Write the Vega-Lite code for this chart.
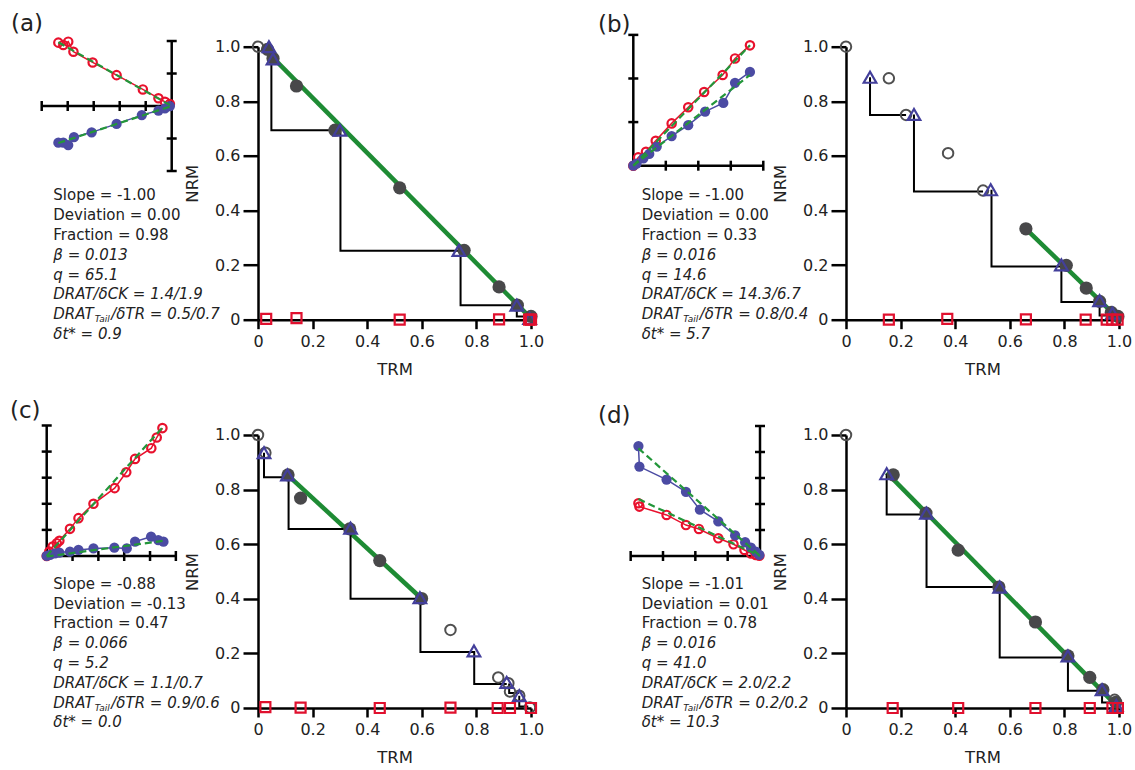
{
"$schema":"https://vega.github.io/schema/vega-lite/v6.json",
"padding":{"top":12.7,"left":0,"right":5,"bottom":0},
"config":{"font":"DejaVu Sans","view":{"stroke":null},
"axisX":{"domainColor":"#000","domainWidth":2.5,"tickColor":"#000","tickWidth":2.5,"tickSize":9,"labelFontSize":16,"labelPadding":5,"labelColor":"#222","titleFontSize":16.5,"titleFontWeight":"normal","titlePadding":12,"titleColor":"#222","grid":false,"labelFlush":false,"labelOverlap":false},
"axisY":{"domainColor":"#000","domainWidth":2.5,"tickColor":"#000","tickWidth":2.5,"tickSize":15,"labelFontSize":16,"labelPadding":3,"labelColor":"#222","titleFontSize":16.5,"titleFontWeight":"normal","titlePadding":14,"titleColor":"#222","grid":false,"labelFlush":false,"labelOverlap":false}},
"datasets":{
"arai":[
{"p":"a","k":"o","x":0,"y":1},
{"p":"a","k":"f","x":0.035,"y":0.99},{"p":"a","k":"f","x":0.055,"y":0.957},{"p":"a","k":"f","x":0.141,"y":0.856},{"p":"a","k":"f","x":0.282,"y":0.694},{"p":"a","k":"f","x":0.519,"y":0.483},{"p":"a","k":"f","x":0.755,"y":0.254},{"p":"a","k":"f","x":0.883,"y":0.12},{"p":"a","k":"f","x":0.95,"y":0.053},{"p":"a","k":"f","x":1.0,"y":0.012},
{"p":"a","k":"t","x":0.04,"y":1.0},{"p":"a","k":"t","x":0.055,"y":0.955},{"p":"a","k":"t","x":0.30,"y":0.694},{"p":"a","k":"t","x":0.736,"y":0.254},{"p":"a","k":"t","x":0.948,"y":0.053},{"p":"a","k":"t","x":0.995,"y":0.005},
{"p":"a","k":"s","x":0.03,"y":0.003},{"p":"a","k":"s","x":0.141,"y":0.006},{"p":"a","k":"s","x":0.519,"y":0},{"p":"a","k":"s","x":0.883,"y":0.001},{"p":"a","k":"s","x":0.993,"y":0},{"p":"a","k":"s","x":1.0,"y":0},
{"p":"b","k":"o","x":0,"y":1},{"p":"b","k":"o","x":0.157,"y":0.884},{"p":"b","k":"o","x":0.22,"y":0.75},{"p":"b","k":"o","x":0.374,"y":0.61},{"p":"b","k":"o","x":0.502,"y":0.473},
{"p":"b","k":"f","x":0.659,"y":0.333},{"p":"b","k":"f","x":0.807,"y":0.199},{"p":"b","k":"f","x":0.88,"y":0.116},{"p":"b","k":"f","x":0.929,"y":0.067},{"p":"b","k":"f","x":0.972,"y":0.027},{"p":"b","k":"f","x":0.996,"y":0.012},
{"p":"b","k":"t","x":0.088,"y":0.888},{"p":"b","k":"t","x":0.249,"y":0.752},{"p":"b","k":"t","x":0.53,"y":0.476},{"p":"b","k":"t","x":0.789,"y":0.201},{"p":"b","k":"t","x":0.929,"y":0.07},{"p":"b","k":"t","x":0.976,"y":0.024},
{"p":"b","k":"s","x":0.157,"y":0},{"p":"b","k":"s","x":0.371,"y":0.003},{"p":"b","k":"s","x":0.659,"y":0.001},{"p":"b","k":"s","x":0.878,"y":0},{"p":"b","k":"s","x":0.955,"y":0},{"p":"b","k":"s","x":0.975,"y":0},{"p":"b","k":"s","x":0.995,"y":0},
{"p":"c","k":"o","x":0,"y":1},{"p":"c","k":"o","x":0.027,"y":0.935},{"p":"c","k":"o","x":0.705,"y":0.286},{"p":"c","k":"o","x":0.88,"y":0.112},{"p":"c","k":"o","x":0.917,"y":0.091},{"p":"c","k":"o","x":0.923,"y":0.06},{"p":"c","k":"o","x":0.957,"y":0.045},{"p":"c","k":"o","x":0.996,"y":0.002},
{"p":"c","k":"f","x":0.11,"y":0.854},{"p":"c","k":"f","x":0.156,"y":0.769},{"p":"c","k":"f","x":0.336,"y":0.656},{"p":"c","k":"f","x":0.446,"y":0.54},{"p":"c","k":"f","x":0.599,"y":0.401},
{"p":"c","k":"t","x":0.022,"y":0.935},{"p":"c","k":"t","x":0.108,"y":0.854},{"p":"c","k":"t","x":0.339,"y":0.659},{"p":"c","k":"t","x":0.593,"y":0.404},{"p":"c","k":"t","x":0.791,"y":0.209},{"p":"c","k":"t","x":0.911,"y":0.094},{"p":"c","k":"t","x":0.957,"y":0.045},
{"p":"c","k":"s","x":0.027,"y":0.003},{"p":"c","k":"s","x":0.156,"y":0.001},{"p":"c","k":"s","x":0.446,"y":0},{"p":"c","k":"s","x":0.705,"y":0.001},{"p":"c","k":"s","x":0.878,"y":0},{"p":"c","k":"s","x":0.923,"y":0},{"p":"c","k":"s","x":1.0,"y":0},
{"p":"d","k":"o","x":0,"y":1},{"p":"d","k":"o","x":0.984,"y":0.03},
{"p":"d","k":"f","x":0.173,"y":0.854},{"p":"d","k":"f","x":0.293,"y":0.714},{"p":"d","k":"f","x":0.411,"y":0.578},{"p":"d","k":"f","x":0.56,"y":0.443},{"p":"d","k":"f","x":0.694,"y":0.315},{"p":"d","k":"f","x":0.813,"y":0.191},{"p":"d","k":"f","x":0.893,"y":0.112},{"p":"d","k":"f","x":0.941,"y":0.067},{"p":"d","k":"f","x":0.988,"y":0.021},
{"p":"d","k":"t","x":0.149,"y":0.858},{"p":"d","k":"t","x":0.295,"y":0.714},{"p":"d","k":"t","x":0.563,"y":0.443},{"p":"d","k":"t","x":0.813,"y":0.191},{"p":"d","k":"t","x":0.938,"y":0.067},{"p":"d","k":"t","x":0.99,"y":0.009},
{"p":"d","k":"s","x":0.171,"y":0},{"p":"d","k":"s","x":0.411,"y":0},{"p":"d","k":"s","x":0.694,"y":0},{"p":"d","k":"s","x":0.893,"y":0},{"p":"d","k":"s","x":0.976,"y":0},{"p":"d","k":"s","x":0.996,"y":0}
],
"steps":[
{"p":"a","g":1,"o":1,"x":0.049,"y":0.957},{"p":"a","g":1,"o":2,"x":0.049,"y":0.694},{"p":"a","g":1,"o":3,"x":0.30,"y":0.694},
{"p":"a","g":2,"o":1,"x":0.302,"y":0.694},{"p":"a","g":2,"o":2,"x":0.302,"y":0.253},{"p":"a","g":2,"o":3,"x":0.75,"y":0.253},
{"p":"a","g":3,"o":1,"x":0.742,"y":0.254},{"p":"a","g":3,"o":2,"x":0.742,"y":0.053},{"p":"a","g":3,"o":3,"x":0.948,"y":0.053},
{"p":"a","g":4,"o":1,"x":0.948,"y":0.053},{"p":"a","g":4,"o":2,"x":0.948,"y":0.012},{"p":"a","g":4,"o":3,"x":0.99,"y":0.012},
{"p":"b","g":1,"o":1,"x":0.088,"y":0.888},{"p":"b","g":1,"o":2,"x":0.088,"y":0.75},{"p":"b","g":1,"o":3,"x":0.22,"y":0.75},
{"p":"b","g":2,"o":1,"x":0.249,"y":0.752},{"p":"b","g":2,"o":2,"x":0.249,"y":0.47},{"p":"b","g":2,"o":3,"x":0.502,"y":0.47},
{"p":"b","g":3,"o":1,"x":0.533,"y":0.476},{"p":"b","g":3,"o":2,"x":0.533,"y":0.195},{"p":"b","g":3,"o":3,"x":0.789,"y":0.195},
{"p":"b","g":4,"o":1,"x":0.789,"y":0.2},{"p":"b","g":4,"o":2,"x":0.789,"y":0.065},{"p":"b","g":4,"o":3,"x":0.929,"y":0.065},
{"p":"b","g":5,"o":1,"x":0.929,"y":0.067},{"p":"b","g":5,"o":2,"x":0.929,"y":0.015},{"p":"b","g":5,"o":3,"x":0.965,"y":0.015},
{"p":"c","g":1,"o":1,"x":0.022,"y":0.935},{"p":"c","g":1,"o":2,"x":0.022,"y":0.845},{"p":"c","g":1,"o":3,"x":0.108,"y":0.845},
{"p":"c","g":2,"o":1,"x":0.112,"y":0.854},{"p":"c","g":2,"o":2,"x":0.112,"y":0.656},{"p":"c","g":2,"o":3,"x":0.336,"y":0.656},
{"p":"c","g":3,"o":1,"x":0.339,"y":0.659},{"p":"c","g":3,"o":2,"x":0.339,"y":0.4},{"p":"c","g":3,"o":3,"x":0.593,"y":0.4},
{"p":"c","g":4,"o":1,"x":0.595,"y":0.4},{"p":"c","g":4,"o":2,"x":0.595,"y":0.205},{"p":"c","g":4,"o":3,"x":0.791,"y":0.205},
{"p":"c","g":5,"o":1,"x":0.792,"y":0.209},{"p":"c","g":5,"o":2,"x":0.792,"y":0.088},{"p":"c","g":5,"o":3,"x":0.911,"y":0.088},
{"p":"c","g":6,"o":1,"x":0.92,"y":0.09},{"p":"c","g":6,"o":2,"x":0.92,"y":0.055},{"p":"c","g":6,"o":3,"x":0.957,"y":0.055},
{"p":"c","g":7,"o":1,"x":0.957,"y":0.045},{"p":"c","g":7,"o":2,"x":0.957,"y":0.005},{"p":"c","g":7,"o":3,"x":0.99,"y":0.005},
{"p":"d","g":1,"o":1,"x":0.149,"y":0.858},{"p":"d","g":1,"o":2,"x":0.149,"y":0.709},{"p":"d","g":1,"o":3,"x":0.293,"y":0.709},
{"p":"d","g":2,"o":1,"x":0.295,"y":0.714},{"p":"d","g":2,"o":2,"x":0.295,"y":0.443},{"p":"d","g":2,"o":3,"x":0.56,"y":0.443},
{"p":"d","g":3,"o":1,"x":0.563,"y":0.443},{"p":"d","g":3,"o":2,"x":0.563,"y":0.185},{"p":"d","g":3,"o":3,"x":0.813,"y":0.185},
{"p":"d","g":4,"o":1,"x":0.813,"y":0.191},{"p":"d","g":4,"o":2,"x":0.813,"y":0.063},{"p":"d","g":4,"o":3,"x":0.938,"y":0.063},
{"p":"d","g":5,"o":1,"x":0.938,"y":0.067},{"p":"d","g":5,"o":2,"x":0.938,"y":0.02},{"p":"d","g":5,"o":3,"x":0.975,"y":0.02}
],
"fit":[
{"p":"a","x":0.03,"y":0.985},{"p":"a","x":1.0,"y":0.005},
{"p":"b","x":0.659,"y":0.333},{"p":"b","x":0.996,"y":0.006},
{"p":"c","x":0.108,"y":0.854},{"p":"c","x":0.599,"y":0.401},
{"p":"d","x":0.149,"y":0.862},{"p":"d","x":0.996,"y":0.003}
],
"zij":[
{"p":"a","c":"r","i":1,"x":-4.36,"y":1.95},{"p":"a","c":"r","i":2,"x":-4.17,"y":1.88},{"p":"a","c":"r","i":3,"x":-3.98,"y":1.98},{"p":"a","c":"r","i":4,"x":-3.78,"y":1.67},{"p":"a","c":"r","i":5,"x":-3.04,"y":1.34},{"p":"a","c":"r","i":6,"x":-2.12,"y":0.95},{"p":"a","c":"r","i":7,"x":-1.11,"y":0.51},{"p":"a","c":"r","i":8,"x":-0.51,"y":0.24},{"p":"a","c":"r","i":9,"x":-0.26,"y":0.13},{"p":"a","c":"r","i":10,"x":-0.07,"y":0.06},
{"p":"a","c":"b","i":1,"x":-4.36,"y":-1.13},{"p":"a","c":"b","i":2,"x":-4.17,"y":-1.13},{"p":"a","c":"b","i":3,"x":-3.98,"y":-1.2},{"p":"a","c":"b","i":4,"x":-3.76,"y":-0.96},{"p":"a","c":"b","i":5,"x":-3.08,"y":-0.81},{"p":"a","c":"b","i":6,"x":-2.12,"y":-0.55},{"p":"a","c":"b","i":7,"x":-1.15,"y":-0.28},{"p":"a","c":"b","i":8,"x":-0.51,"y":-0.14},{"p":"a","c":"b","i":9,"x":-0.26,"y":-0.07},{"p":"a","c":"b","i":10,"x":-0.07,"y":0.0},
{"p":"b","c":"r","i":1,"x":0,"y":0},{"p":"b","c":"r","i":2,"x":0.15,"y":0.19},{"p":"b","c":"r","i":3,"x":0.39,"y":0.32},{"p":"b","c":"r","i":4,"x":0.69,"y":0.57},{"p":"b","c":"r","i":5,"x":1.18,"y":0.97},{"p":"b","c":"r","i":6,"x":1.69,"y":1.34},{"p":"b","c":"r","i":7,"x":2.18,"y":1.69},{"p":"b","c":"r","i":8,"x":2.75,"y":2.08},{"p":"b","c":"r","i":9,"x":3.13,"y":2.46},{"p":"b","c":"r","i":10,"x":3.59,"y":2.76},
{"p":"b","c":"b","i":1,"x":0,"y":0},{"p":"b","c":"b","i":2,"x":0.10,"y":0.05},{"p":"b","c":"b","i":3,"x":0.31,"y":0.17},{"p":"b","c":"b","i":4,"x":0.49,"y":0.27},{"p":"b","c":"b","i":5,"x":0.72,"y":0.44},{"p":"b","c":"b","i":6,"x":1.18,"y":0.68},{"p":"b","c":"b","i":7,"x":1.69,"y":0.93},{"p":"b","c":"b","i":8,"x":2.21,"y":1.24},{"p":"b","c":"b","i":9,"x":2.77,"y":1.44},{"p":"b","c":"b","i":10,"x":3.13,"y":1.90},{"p":"b","c":"b","i":11,"x":3.59,"y":2.15},
{"p":"c","c":"r","i":1,"x":0,"y":0},{"p":"c","c":"r","i":2,"x":0.10,"y":0.17},{"p":"c","c":"r","i":3,"x":0.23,"y":0.36},{"p":"c","c":"r","i":4,"x":0.39,"y":0.49},{"p":"c","c":"r","i":5,"x":0.49,"y":0.58},{"p":"c","c":"r","i":6,"x":0.90,"y":1.04},{"p":"c","c":"r","i":7,"x":1.23,"y":1.45},{"p":"c","c":"r","i":8,"x":1.81,"y":2.0},{"p":"c","c":"r","i":9,"x":2.63,"y":2.6},{"p":"c","c":"r","i":10,"x":3.08,"y":3.21},{"p":"c","c":"r","i":11,"x":3.42,"y":3.72},{"p":"c","c":"r","i":12,"x":4.05,"y":4.13},{"p":"c","c":"r","i":13,"x":4.26,"y":4.54},{"p":"c","c":"r","i":14,"x":4.48,"y":4.9},
{"p":"c","c":"b","i":1,"x":0,"y":0},{"p":"c","c":"b","i":2,"x":0.13,"y":0.04},{"p":"c","c":"b","i":3,"x":0.32,"y":0.10},{"p":"c","c":"b","i":4,"x":0.49,"y":0.13},{"p":"c","c":"b","i":5,"x":0.90,"y":0.17},{"p":"c","c":"b","i":6,"x":1.23,"y":0.23},{"p":"c","c":"b","i":7,"x":1.81,"y":0.29},{"p":"c","c":"b","i":8,"x":2.62,"y":0.32},{"p":"c","c":"b","i":9,"x":3.1,"y":0.29},{"p":"c","c":"b","i":10,"x":3.42,"y":0.55},{"p":"c","c":"b","i":11,"x":4.04,"y":0.74},{"p":"c","c":"b","i":12,"x":4.32,"y":0.61},{"p":"c","c":"b","i":13,"x":4.52,"y":0.55},
{"p":"d","c":"b","i":1,"x":-3.76,"y":4.23},{"p":"d","c":"b","i":2,"x":-3.73,"y":3.44},{"p":"d","c":"b","i":3,"x":-2.89,"y":2.94},{"p":"d","c":"b","i":4,"x":-2.29,"y":2.47},{"p":"d","c":"b","i":5,"x":-1.86,"y":1.78},{"p":"d","c":"b","i":6,"x":-1.29,"y":1.33},{"p":"d","c":"b","i":7,"x":-0.77,"y":0.79},{"p":"d","c":"b","i":8,"x":-0.46,"y":0.53},{"p":"d","c":"b","i":9,"x":-0.28,"y":0.32},{"p":"d","c":"b","i":10,"x":-0.13,"y":0.17},{"p":"d","c":"b","i":11,"x":-0.02,"y":0.04},
{"p":"d","c":"r","i":1,"x":-3.76,"y":2.03},{"p":"d","c":"r","i":2,"x":-3.73,"y":1.90},{"p":"d","c":"r","i":3,"x":-2.89,"y":1.58},{"p":"d","c":"r","i":4,"x":-2.29,"y":1.19},{"p":"d","c":"r","i":5,"x":-1.89,"y":1.04},{"p":"d","c":"r","i":6,"x":-1.29,"y":0.68},{"p":"d","c":"r","i":7,"x":-0.82,"y":0.45},{"p":"d","c":"r","i":8,"x":-0.48,"y":0.23},{"p":"d","c":"r","i":9,"x":-0.28,"y":0.10},{"p":"d","c":"r","i":10,"x":-0.13,"y":0.04},{"p":"d","c":"r","i":11,"x":-0.02,"y":0.01}
],
"zfit":[
{"p":"a","c":"r","x":-4.36,"y":1.96},{"p":"a","c":"r","x":0,"y":0},{"p":"a","c":"b","x":-4.36,"y":-1.14},{"p":"a","c":"b","x":0,"y":0},
{"p":"b","c":"r","x":0,"y":0},{"p":"b","c":"r","x":3.59,"y":2.76},{"p":"b","c":"b","x":0,"y":0},{"p":"b","c":"b","x":3.59,"y":2.08},
{"p":"c","c":"r","x":0,"y":0},{"p":"c","c":"r","x":4.48,"y":4.92},{"p":"c","c":"b","x":0,"y":-0.02},{"p":"c","c":"b","x":4.5,"y":0.58},
{"p":"d","c":"r","x":-3.76,"y":2.19},{"p":"d","c":"r","x":0,"y":0},{"p":"d","c":"b","x":-3.76,"y":4.14},{"p":"d","c":"b","x":0,"y":0}
],
"zax":[
{"p":"a","x1":-5,"x2":0,"y1":0,"y2":0},{"p":"a","x1":0,"x2":0,"y1":-2,"y2":2},
{"p":"b","x1":0,"x2":4,"y1":0,"y2":0},{"p":"b","x1":0,"x2":0,"y1":0,"y2":3},
{"p":"c","x1":0,"x2":5,"y1":0,"y2":0},{"p":"c","x1":0,"x2":0,"y1":0,"y2":5},
{"p":"d","x1":-4,"x2":0,"y1":0,"y2":0},{"p":"d","x1":0,"x2":0,"y1":0,"y2":5}
],
"ztick":[
{"p":"a","a":"h","t":-5},{"p":"a","a":"h","t":-4},{"p":"a","a":"h","t":-3},{"p":"a","a":"h","t":-2},{"p":"a","a":"h","t":-1},
{"p":"a","a":"v","t":-2},{"p":"a","a":"v","t":-1},{"p":"a","a":"v","t":1},{"p":"a","a":"v","t":2},
{"p":"b","a":"h","t":1},{"p":"b","a":"h","t":2},{"p":"b","a":"h","t":3},{"p":"b","a":"h","t":4},
{"p":"b","a":"v","t":1},{"p":"b","a":"v","t":2},{"p":"b","a":"v","t":3},
{"p":"c","a":"h","t":1},{"p":"c","a":"h","t":2},{"p":"c","a":"h","t":3},{"p":"c","a":"h","t":4},{"p":"c","a":"h","t":5},
{"p":"c","a":"v","t":1},{"p":"c","a":"v","t":2},{"p":"c","a":"v","t":3},{"p":"c","a":"v","t":4},{"p":"c","a":"v","t":5},
{"p":"d","a":"h","t":-4},{"p":"d","a":"h","t":-3},{"p":"d","a":"h","t":-2},{"p":"d","a":"h","t":-1},
{"p":"d","a":"v","t":1},{"p":"d","a":"v","t":2},{"p":"d","a":"v","t":3},{"p":"d","a":"v","t":4},{"p":"d","a":"v","t":5}
],
"stats":[
{"p":"a","k":1,"st":"n","txt":"Slope = -1.00"},{"p":"a","k":2,"st":"n","txt":"Deviation = 0.00"},{"p":"a","k":3,"st":"n","txt":"Fraction = 0.98"},{"p":"a","k":4,"st":"i","txt":"β = 0.013"},{"p":"a","k":5,"st":"i","txt":"q = 65.1"},{"p":"a","k":6,"st":"i","txt":"DRAT/δCK = 1.4/1.9"},{"p":"a","k":7,"st":"i","txt":"DRAT"},{"p":"a","k":7,"st":"s","txt":"Tail"},{"p":"a","k":7,"st":"r","txt":"/δTR = 0.5/0.7"},{"p":"a","k":8,"st":"i","txt":"δt* = 0.9"},
{"p":"b","k":1,"st":"n","txt":"Slope = -1.00"},{"p":"b","k":2,"st":"n","txt":"Deviation = 0.00"},{"p":"b","k":3,"st":"n","txt":"Fraction = 0.33"},{"p":"b","k":4,"st":"i","txt":"β = 0.016"},{"p":"b","k":5,"st":"i","txt":"q = 14.6"},{"p":"b","k":6,"st":"i","txt":"DRAT/δCK = 14.3/6.7"},{"p":"b","k":7,"st":"i","txt":"DRAT"},{"p":"b","k":7,"st":"s","txt":"Tail"},{"p":"b","k":7,"st":"r","txt":"/δTR = 0.8/0.4"},{"p":"b","k":8,"st":"i","txt":"δt* = 5.7"},
{"p":"c","k":1,"st":"n","txt":"Slope = -0.88"},{"p":"c","k":2,"st":"n","txt":"Deviation = -0.13"},{"p":"c","k":3,"st":"n","txt":"Fraction = 0.47"},{"p":"c","k":4,"st":"i","txt":"β = 0.066"},{"p":"c","k":5,"st":"i","txt":"q = 5.2"},{"p":"c","k":6,"st":"i","txt":"DRAT/δCK = 1.1/0.7"},{"p":"c","k":7,"st":"i","txt":"DRAT"},{"p":"c","k":7,"st":"s","txt":"Tail"},{"p":"c","k":7,"st":"r","txt":"/δTR = 0.9/0.6"},{"p":"c","k":8,"st":"i","txt":"δt* = 0.0"},
{"p":"d","k":1,"st":"n","txt":"Slope = -1.01"},{"p":"d","k":2,"st":"n","txt":"Deviation = 0.01"},{"p":"d","k":3,"st":"n","txt":"Fraction = 0.78"},{"p":"d","k":4,"st":"i","txt":"β = 0.016"},{"p":"d","k":5,"st":"i","txt":"q = 41.0"},{"p":"d","k":6,"st":"i","txt":"DRAT/δCK = 2.0/2.2"},{"p":"d","k":7,"st":"i","txt":"DRAT"},{"p":"d","k":7,"st":"s","txt":"Tail"},{"p":"d","k":7,"st":"r","txt":"/δTR = 0.2/0.2"},{"p":"d","k":8,"st":"i","txt":"δt* = 10.3"}
]
},
"columns":4,
"spacing":{"row":115.3,"column":48},
"bounds":"flush",
"concat":[
  {"width":210,"height":273,
   "title":{"text":"(a)","anchor":"start","frame":"group","offset":-3.3,"dx":11,"fontSize":23,"fontWeight":"normal","color":"#222"},
   "resolve":{"scale":{"y":"independent"}},
   "layer":[
    {"layer":[
     {"data":{"name":"zax"},"transform":[{"filter":"datum.p=='a'"}],"mark":{"type":"rule","color":"#000","strokeWidth":2.5},
      "encoding":{"x":{"field":"x1","type":"quantitative","scale":{"domain":[-6.604,1.473],"nice":false,"zero":false},"axis":null},"x2":{"field":"x2"},"y":{"field":"y1","type":"quantitative","scale":{"domain":[-6.575,1.825],"nice":false,"zero":false},"axis":null},"y2":{"field":"y2"}}},
     {"data":{"name":"ztick"},"transform":[{"filter":"datum.p=='a' && datum.a=='h'"}],"mark":{"type":"tick","orient":"vertical","size":10,"thickness":2.5,"color":"#000","opacity":1},
      "encoding":{"x":{"field":"t","type":"quantitative","scale":{"domain":[-6.604,1.473],"nice":false,"zero":false},"axis":null},"y":{"datum":0,"type":"quantitative","scale":{"domain":[-6.575,1.825],"nice":false,"zero":false},"axis":null}}},
     {"data":{"name":"ztick"},"transform":[{"filter":"datum.p=='a' && datum.a=='v'"}],"mark":{"type":"tick","orient":"horizontal","size":10,"thickness":2.5,"color":"#000","opacity":1},
      "encoding":{"x":{"datum":0,"type":"quantitative","scale":{"domain":[-6.604,1.473],"nice":false,"zero":false},"axis":null},"y":{"field":"t","type":"quantitative","scale":{"domain":[-6.575,1.825],"nice":false,"zero":false},"axis":null}}},
     {"data":{"name":"zij"},"transform":[{"filter":"datum.p=='a'"}],
      "encoding":{"x":{"field":"x","type":"quantitative","scale":{"domain":[-6.604,1.473],"nice":false,"zero":false},"axis":null},"y":{"field":"y","type":"quantitative","scale":{"domain":[-6.575,1.825],"nice":false,"zero":false},"axis":null},"order":{"field":"i","type":"quantitative"}},
      "layer":[
       {"transform":[{"filter":"datum.c=='r'"}],"mark":{"type":"line","color":"#e8112d","strokeWidth":1.5}},
       {"transform":[{"filter":"datum.c=='b'"}],"mark":{"type":"line","color":"#4b4ba3","strokeWidth":1.5}},
       {"transform":[{"filter":"datum.c=='r'"}],"mark":{"type":"point","shape":"circle","filled":false,"color":"#e8112d","strokeWidth":2.2,"size":70,"opacity":1}},
       {"transform":[{"filter":"datum.c=='b'"}],"mark":{"type":"circle","color":"#4b4ba3","size":105,"opacity":1}}
      ]},
     {"data":{"name":"zfit"},"transform":[{"filter":"datum.p=='a'"}],"mark":{"type":"line","color":"#23963a","strokeWidth":2.2,"strokeDash":[7,4]},
      "encoding":{"x":{"field":"x","type":"quantitative","scale":{"domain":[-6.604,1.473],"nice":false,"zero":false},"axis":null},"y":{"field":"y","type":"quantitative","scale":{"domain":[-6.575,1.825],"nice":false,"zero":false},"axis":null},"detail":{"field":"c"}}}
    ]},
    {"data":{"name":"stats"},"transform":[{"filter":"datum.p=='a'"}],
     "encoding":{"x":{"datum":-4.554,"type":"quantitative","scale":{"domain":[-6.604,1.473],"nice":false,"zero":false},"axis":null},"y":{"field":"k","type":"quantitative","scale":{"domain":[-6.515,7.273],"reverse":true,"nice":false,"zero":false},"axis":null},"text":{"field":"txt"}},
     "layer":[
      {"transform":[{"filter":"datum.st=='n'"}],"mark":{"type":"text","align":"left","baseline":"middle","fontSize":15,"color":"#222"}},
      {"transform":[{"filter":"datum.st=='i'"}],"mark":{"type":"text","align":"left","baseline":"middle","fontSize":15,"fontStyle":"italic","color":"#222"}},
      {"transform":[{"filter":"datum.st=='s'"}],"mark":{"type":"text","align":"left","baseline":"middle","fontSize":9,"fontStyle":"italic","dx":41.5,"dy":5,"color":"#222"}},
      {"transform":[{"filter":"datum.st=='r'"}],"mark":{"type":"text","align":"left","baseline":"middle","fontSize":15,"fontStyle":"italic","dx":58,"color":"#222"}}
     ]}
   ]},
  {"width":273,"height":273,
   "layer":[
    {"data":{"name":"fit"},"transform":[{"filter":"datum.p=='a'"}],"mark":{"type":"line","color":"#1e8b34","strokeWidth":4.5},
     "encoding":{"x":{"field":"x","type":"quantitative","title":"TRM","scale":{"domain":[0,1],"nice":false},"axis":{"values":[0,0.2,0.4,0.6,0.8,1],"labelExpr":"datum.value === 0 ? '0' : format(datum.value, '.1f')"}},"y":{"field":"y","type":"quantitative","title":"NRM","scale":{"domain":[0,1],"nice":false},"axis":{"values":[0,0.2,0.4,0.6,0.8,1],"labelExpr":"datum.value === 0 ? '0' : format(datum.value, '.1f')"}}}},
    {"data":{"name":"steps"},"transform":[{"filter":"datum.p=='a'"}],"mark":{"type":"line","color":"#000","strokeWidth":2},
     "encoding":{"x":{"field":"x","type":"quantitative","title":"TRM","scale":{"domain":[0,1],"nice":false}},"y":{"field":"y","type":"quantitative","title":"NRM","scale":{"domain":[0,1],"nice":false}},"detail":{"field":"g"},"order":{"field":"o","type":"quantitative"}}},
    {"data":{"name":"arai"},"transform":[{"filter":"datum.p=='a'"}],
     "encoding":{"x":{"field":"x","type":"quantitative","title":"TRM","scale":{"domain":[0,1],"nice":false}},"y":{"field":"y","type":"quantitative","title":"NRM","scale":{"domain":[0,1],"nice":false}}},
     "layer":[
      {"transform":[{"filter":"datum.k=='o'"}],"mark":{"type":"point","shape":"circle","filled":false,"color":"#505050","strokeWidth":2,"size":110,"opacity":1}},
      {"transform":[{"filter":"datum.k=='f'"}],"mark":{"type":"circle","color":"#48484a","size":175,"opacity":1}},
      {"transform":[{"filter":"datum.k=='t'"}],"mark":{"type":"point","shape":"triangle-up","filled":false,"color":"#433f9b","strokeWidth":2.2,"size":160,"opacity":1}},
      {"transform":[{"filter":"datum.k=='s'"}],"mark":{"type":"point","shape":"square","filled":false,"color":"#e0102e","strokeWidth":2.2,"size":100,"opacity":1}}
     ]}
   ]},
  {"width":219,"height":273,
   "title":{"text":"(b)","anchor":"start","frame":"group","offset":-3.3,"dx":19,"fontSize":23,"fontWeight":"normal","color":"#222"},
   "resolve":{"scale":{"y":"independent"}},
   "layer":[
    {"layer":[
     {"data":{"name":"zax"},"transform":[{"filter":"datum.p=='b'"}],"mark":{"type":"rule","color":"#000","strokeWidth":2.5},
      "encoding":{"x":{"field":"x1","type":"quantitative","scale":{"domain":[-1.671,5.068],"nice":false,"zero":false},"axis":null},"x2":{"field":"x2"},"y":{"field":"y1","type":"quantitative","scale":{"domain":[-3.532,2.729],"nice":false,"zero":false},"axis":null},"y2":{"field":"y2"}}},
     {"data":{"name":"ztick"},"transform":[{"filter":"datum.p=='b' && datum.a=='h'"}],"mark":{"type":"tick","orient":"vertical","size":10,"thickness":2.5,"color":"#000","opacity":1},
      "encoding":{"x":{"field":"t","type":"quantitative","scale":{"domain":[-1.671,5.068],"nice":false,"zero":false},"axis":null},"y":{"datum":0,"type":"quantitative","scale":{"domain":[-3.532,2.729],"nice":false,"zero":false},"axis":null}}},
     {"data":{"name":"ztick"},"transform":[{"filter":"datum.p=='b' && datum.a=='v'"}],"mark":{"type":"tick","orient":"horizontal","size":10,"thickness":2.5,"color":"#000","opacity":1},
      "encoding":{"x":{"datum":0,"type":"quantitative","scale":{"domain":[-1.671,5.068],"nice":false,"zero":false},"axis":null},"y":{"field":"t","type":"quantitative","scale":{"domain":[-3.532,2.729],"nice":false,"zero":false},"axis":null}}},
     {"data":{"name":"zij"},"transform":[{"filter":"datum.p=='b'"}],
      "encoding":{"x":{"field":"x","type":"quantitative","scale":{"domain":[-1.671,5.068],"nice":false,"zero":false},"axis":null},"y":{"field":"y","type":"quantitative","scale":{"domain":[-3.532,2.729],"nice":false,"zero":false},"axis":null},"order":{"field":"i","type":"quantitative"}},
      "layer":[
       {"transform":[{"filter":"datum.c=='r'"}],"mark":{"type":"line","color":"#e8112d","strokeWidth":1.5}},
       {"transform":[{"filter":"datum.c=='b'"}],"mark":{"type":"line","color":"#4b4ba3","strokeWidth":1.5}},
       {"transform":[{"filter":"datum.c=='r'"}],"mark":{"type":"point","shape":"circle","filled":false,"color":"#e8112d","strokeWidth":2.2,"size":70,"opacity":1}},
       {"transform":[{"filter":"datum.c=='b'"}],"mark":{"type":"circle","color":"#4b4ba3","size":105,"opacity":1}}
      ]},
     {"data":{"name":"zfit"},"transform":[{"filter":"datum.p=='b'"}],"mark":{"type":"line","color":"#23963a","strokeWidth":2.2,"strokeDash":[7,4]},
      "encoding":{"x":{"field":"x","type":"quantitative","scale":{"domain":[-1.671,5.068],"nice":false,"zero":false},"axis":null},"y":{"field":"y","type":"quantitative","scale":{"domain":[-3.532,2.729],"nice":false,"zero":false},"axis":null},"detail":{"field":"c"}}}
    ]},
    {"data":{"name":"stats"},"transform":[{"filter":"datum.p=='b'"}],
     "encoding":{"x":{"datum":0.258,"type":"quantitative","scale":{"domain":[-1.671,5.068],"nice":false,"zero":false},"axis":null},"y":{"field":"k","type":"quantitative","scale":{"domain":[-6.515,7.273],"reverse":true,"nice":false,"zero":false},"axis":null},"text":{"field":"txt"}},
     "layer":[
      {"transform":[{"filter":"datum.st=='n'"}],"mark":{"type":"text","align":"left","baseline":"middle","fontSize":15,"color":"#222"}},
      {"transform":[{"filter":"datum.st=='i'"}],"mark":{"type":"text","align":"left","baseline":"middle","fontSize":15,"fontStyle":"italic","color":"#222"}},
      {"transform":[{"filter":"datum.st=='s'"}],"mark":{"type":"text","align":"left","baseline":"middle","fontSize":9,"fontStyle":"italic","dx":41.5,"dy":5,"color":"#222"}},
      {"transform":[{"filter":"datum.st=='r'"}],"mark":{"type":"text","align":"left","baseline":"middle","fontSize":15,"fontStyle":"italic","dx":58,"color":"#222"}}
     ]}
   ]},
  {"width":273,"height":273,
   "layer":[
    {"data":{"name":"fit"},"transform":[{"filter":"datum.p=='b'"}],"mark":{"type":"line","color":"#1e8b34","strokeWidth":4.5},
     "encoding":{"x":{"field":"x","type":"quantitative","title":"TRM","scale":{"domain":[0,1],"nice":false},"axis":{"values":[0,0.2,0.4,0.6,0.8,1],"labelExpr":"datum.value === 0 ? '0' : format(datum.value, '.1f')"}},"y":{"field":"y","type":"quantitative","title":"NRM","scale":{"domain":[0,1],"nice":false},"axis":{"values":[0,0.2,0.4,0.6,0.8,1],"labelExpr":"datum.value === 0 ? '0' : format(datum.value, '.1f')"}}}},
    {"data":{"name":"steps"},"transform":[{"filter":"datum.p=='b'"}],"mark":{"type":"line","color":"#000","strokeWidth":2},
     "encoding":{"x":{"field":"x","type":"quantitative","title":"TRM","scale":{"domain":[0,1],"nice":false}},"y":{"field":"y","type":"quantitative","title":"NRM","scale":{"domain":[0,1],"nice":false}},"detail":{"field":"g"},"order":{"field":"o","type":"quantitative"}}},
    {"data":{"name":"arai"},"transform":[{"filter":"datum.p=='b'"}],
     "encoding":{"x":{"field":"x","type":"quantitative","title":"TRM","scale":{"domain":[0,1],"nice":false}},"y":{"field":"y","type":"quantitative","title":"NRM","scale":{"domain":[0,1],"nice":false}}},
     "layer":[
      {"transform":[{"filter":"datum.k=='o'"}],"mark":{"type":"point","shape":"circle","filled":false,"color":"#505050","strokeWidth":2,"size":110,"opacity":1}},
      {"transform":[{"filter":"datum.k=='f'"}],"mark":{"type":"circle","color":"#48484a","size":175,"opacity":1}},
      {"transform":[{"filter":"datum.k=='t'"}],"mark":{"type":"point","shape":"triangle-up","filled":false,"color":"#433f9b","strokeWidth":2.2,"size":160,"opacity":1}},
      {"transform":[{"filter":"datum.k=='s'"}],"mark":{"type":"point","shape":"square","filled":false,"color":"#e0102e","strokeWidth":2.2,"size":100,"opacity":1}}
     ]}
   ]},
  {"width":210,"height":273,
   "title":{"text":"(c)","anchor":"start","frame":"group","offset":-3.3,"dx":10,"fontSize":23,"fontWeight":"normal","color":"#222"},
   "resolve":{"scale":{"y":"independent"}},
   "layer":[
    {"layer":[
     {"data":{"name":"zax"},"transform":[{"filter":"datum.p=='c'"}],"mark":{"type":"rule","color":"#000","strokeWidth":2.5},
      "encoding":{"x":{"field":"x1","type":"quantitative","scale":{"domain":[-1.808,6.322],"nice":false,"zero":false},"axis":null},"x2":{"field":"x2"},"y":{"field":"y1","type":"quantitative","scale":{"domain":[-5.824,4.636],"nice":false,"zero":false},"axis":null},"y2":{"field":"y2"}}},
     {"data":{"name":"ztick"},"transform":[{"filter":"datum.p=='c' && datum.a=='h'"}],"mark":{"type":"tick","orient":"vertical","size":10,"thickness":2.5,"color":"#000","opacity":1},
      "encoding":{"x":{"field":"t","type":"quantitative","scale":{"domain":[-1.808,6.322],"nice":false,"zero":false},"axis":null},"y":{"datum":0,"type":"quantitative","scale":{"domain":[-5.824,4.636],"nice":false,"zero":false},"axis":null}}},
     {"data":{"name":"ztick"},"transform":[{"filter":"datum.p=='c' && datum.a=='v'"}],"mark":{"type":"tick","orient":"horizontal","size":10,"thickness":2.5,"color":"#000","opacity":1},
      "encoding":{"x":{"datum":0,"type":"quantitative","scale":{"domain":[-1.808,6.322],"nice":false,"zero":false},"axis":null},"y":{"field":"t","type":"quantitative","scale":{"domain":[-5.824,4.636],"nice":false,"zero":false},"axis":null}}},
     {"data":{"name":"zij"},"transform":[{"filter":"datum.p=='c'"}],
      "encoding":{"x":{"field":"x","type":"quantitative","scale":{"domain":[-1.808,6.322],"nice":false,"zero":false},"axis":null},"y":{"field":"y","type":"quantitative","scale":{"domain":[-5.824,4.636],"nice":false,"zero":false},"axis":null},"order":{"field":"i","type":"quantitative"}},
      "layer":[
       {"transform":[{"filter":"datum.c=='r'"}],"mark":{"type":"line","color":"#e8112d","strokeWidth":1.5}},
       {"transform":[{"filter":"datum.c=='b'"}],"mark":{"type":"line","color":"#4b4ba3","strokeWidth":1.5}},
       {"transform":[{"filter":"datum.c=='r'"}],"mark":{"type":"point","shape":"circle","filled":false,"color":"#e8112d","strokeWidth":2.2,"size":70,"opacity":1}},
       {"transform":[{"filter":"datum.c=='b'"}],"mark":{"type":"circle","color":"#4b4ba3","size":105,"opacity":1}}
      ]},
     {"data":{"name":"zfit"},"transform":[{"filter":"datum.p=='c'"}],"mark":{"type":"line","color":"#23963a","strokeWidth":2.2,"strokeDash":[7,4]},
      "encoding":{"x":{"field":"x","type":"quantitative","scale":{"domain":[-1.808,6.322],"nice":false,"zero":false},"axis":null},"y":{"field":"y","type":"quantitative","scale":{"domain":[-5.824,4.636],"nice":false,"zero":false},"axis":null},"detail":{"field":"c"}}}
    ]},
    {"data":{"name":"stats"},"transform":[{"filter":"datum.p=='c'"}],
     "encoding":{"x":{"datum":0.256,"type":"quantitative","scale":{"domain":[-1.808,6.322],"nice":false,"zero":false},"axis":null},"y":{"field":"k","type":"quantitative","scale":{"domain":[-6.515,7.273],"reverse":true,"nice":false,"zero":false},"axis":null},"text":{"field":"txt"}},
     "layer":[
      {"transform":[{"filter":"datum.st=='n'"}],"mark":{"type":"text","align":"left","baseline":"middle","fontSize":15,"color":"#222"}},
      {"transform":[{"filter":"datum.st=='i'"}],"mark":{"type":"text","align":"left","baseline":"middle","fontSize":15,"fontStyle":"italic","color":"#222"}},
      {"transform":[{"filter":"datum.st=='s'"}],"mark":{"type":"text","align":"left","baseline":"middle","fontSize":9,"fontStyle":"italic","dx":41.5,"dy":5,"color":"#222"}},
      {"transform":[{"filter":"datum.st=='r'"}],"mark":{"type":"text","align":"left","baseline":"middle","fontSize":15,"fontStyle":"italic","dx":58,"color":"#222"}}
     ]}
   ]},
  {"width":273,"height":273,
   "layer":[
    {"data":{"name":"fit"},"transform":[{"filter":"datum.p=='c'"}],"mark":{"type":"line","color":"#1e8b34","strokeWidth":4.5},
     "encoding":{"x":{"field":"x","type":"quantitative","title":"TRM","scale":{"domain":[0,1],"nice":false},"axis":{"values":[0,0.2,0.4,0.6,0.8,1],"labelExpr":"datum.value === 0 ? '0' : format(datum.value, '.1f')"}},"y":{"field":"y","type":"quantitative","title":"NRM","scale":{"domain":[0,1],"nice":false},"axis":{"values":[0,0.2,0.4,0.6,0.8,1],"labelExpr":"datum.value === 0 ? '0' : format(datum.value, '.1f')"}}}},
    {"data":{"name":"steps"},"transform":[{"filter":"datum.p=='c'"}],"mark":{"type":"line","color":"#000","strokeWidth":2},
     "encoding":{"x":{"field":"x","type":"quantitative","title":"TRM","scale":{"domain":[0,1],"nice":false}},"y":{"field":"y","type":"quantitative","title":"NRM","scale":{"domain":[0,1],"nice":false}},"detail":{"field":"g"},"order":{"field":"o","type":"quantitative"}}},
    {"data":{"name":"arai"},"transform":[{"filter":"datum.p=='c'"}],
     "encoding":{"x":{"field":"x","type":"quantitative","title":"TRM","scale":{"domain":[0,1],"nice":false}},"y":{"field":"y","type":"quantitative","title":"NRM","scale":{"domain":[0,1],"nice":false}}},
     "layer":[
      {"transform":[{"filter":"datum.k=='o'"}],"mark":{"type":"point","shape":"circle","filled":false,"color":"#505050","strokeWidth":2,"size":110,"opacity":1}},
      {"transform":[{"filter":"datum.k=='f'"}],"mark":{"type":"circle","color":"#48484a","size":175,"opacity":1}},
      {"transform":[{"filter":"datum.k=='t'"}],"mark":{"type":"point","shape":"triangle-up","filled":false,"color":"#433f9b","strokeWidth":2.2,"size":160,"opacity":1}},
      {"transform":[{"filter":"datum.k=='s'"}],"mark":{"type":"point","shape":"square","filled":false,"color":"#e0102e","strokeWidth":2.2,"size":100,"opacity":1}}
     ]}
   ]},
  {"width":219,"height":273,
   "title":{"text":"(d)","anchor":"start","frame":"group","offset":-3.3,"dx":19,"fontSize":23,"fontWeight":"normal","color":"#222"},
   "resolve":{"scale":{"y":"independent"}},
   "layer":[
    {"layer":[
     {"data":{"name":"zax"},"transform":[{"filter":"datum.p=='d'"}],"mark":{"type":"rule","color":"#000","strokeWidth":2.5},
      "encoding":{"x":{"field":"x1","type":"quantitative","scale":{"domain":[-5.598,1.175],"nice":false,"zero":false},"axis":null},"x2":{"field":"x2"},"y":{"field":"y1","type":"quantitative","scale":{"domain":[-5.846,4.654],"nice":false,"zero":false},"axis":null},"y2":{"field":"y2"}}},
     {"data":{"name":"ztick"},"transform":[{"filter":"datum.p=='d' && datum.a=='h'"}],"mark":{"type":"tick","orient":"vertical","size":10,"thickness":2.5,"color":"#000","opacity":1},
      "encoding":{"x":{"field":"t","type":"quantitative","scale":{"domain":[-5.598,1.175],"nice":false,"zero":false},"axis":null},"y":{"datum":0,"type":"quantitative","scale":{"domain":[-5.846,4.654],"nice":false,"zero":false},"axis":null}}},
     {"data":{"name":"ztick"},"transform":[{"filter":"datum.p=='d' && datum.a=='v'"}],"mark":{"type":"tick","orient":"horizontal","size":10,"thickness":2.5,"color":"#000","opacity":1},
      "encoding":{"x":{"datum":0,"type":"quantitative","scale":{"domain":[-5.598,1.175],"nice":false,"zero":false},"axis":null},"y":{"field":"t","type":"quantitative","scale":{"domain":[-5.846,4.654],"nice":false,"zero":false},"axis":null}}},
     {"data":{"name":"zij"},"transform":[{"filter":"datum.p=='d'"}],
      "encoding":{"x":{"field":"x","type":"quantitative","scale":{"domain":[-5.598,1.175],"nice":false,"zero":false},"axis":null},"y":{"field":"y","type":"quantitative","scale":{"domain":[-5.846,4.654],"nice":false,"zero":false},"axis":null},"order":{"field":"i","type":"quantitative"}},
      "layer":[
       {"transform":[{"filter":"datum.c=='r'"}],"mark":{"type":"line","color":"#e8112d","strokeWidth":1.5}},
       {"transform":[{"filter":"datum.c=='b'"}],"mark":{"type":"line","color":"#4b4ba3","strokeWidth":1.5}},
       {"transform":[{"filter":"datum.c=='r'"}],"mark":{"type":"point","shape":"circle","filled":false,"color":"#e8112d","strokeWidth":2.2,"size":70,"opacity":1}},
       {"transform":[{"filter":"datum.c=='b'"}],"mark":{"type":"circle","color":"#4b4ba3","size":105,"opacity":1}}
      ]},
     {"data":{"name":"zfit"},"transform":[{"filter":"datum.p=='d'"}],"mark":{"type":"line","color":"#23963a","strokeWidth":2.2,"strokeDash":[7,4]},
      "encoding":{"x":{"field":"x","type":"quantitative","scale":{"domain":[-5.598,1.175],"nice":false,"zero":false},"axis":null},"y":{"field":"y","type":"quantitative","scale":{"domain":[-5.846,4.654],"nice":false,"zero":false},"axis":null},"detail":{"field":"c"}}}
    ]},
    {"data":{"name":"stats"},"transform":[{"filter":"datum.p=='d'"}],
     "encoding":{"x":{"datum":-3.659,"type":"quantitative","scale":{"domain":[-5.598,1.175],"nice":false,"zero":false},"axis":null},"y":{"field":"k","type":"quantitative","scale":{"domain":[-6.515,7.273],"reverse":true,"nice":false,"zero":false},"axis":null},"text":{"field":"txt"}},
     "layer":[
      {"transform":[{"filter":"datum.st=='n'"}],"mark":{"type":"text","align":"left","baseline":"middle","fontSize":15,"color":"#222"}},
      {"transform":[{"filter":"datum.st=='i'"}],"mark":{"type":"text","align":"left","baseline":"middle","fontSize":15,"fontStyle":"italic","color":"#222"}},
      {"transform":[{"filter":"datum.st=='s'"}],"mark":{"type":"text","align":"left","baseline":"middle","fontSize":9,"fontStyle":"italic","dx":41.5,"dy":5,"color":"#222"}},
      {"transform":[{"filter":"datum.st=='r'"}],"mark":{"type":"text","align":"left","baseline":"middle","fontSize":15,"fontStyle":"italic","dx":58,"color":"#222"}}
     ]}
   ]},
  {"width":273,"height":273,
   "layer":[
    {"data":{"name":"fit"},"transform":[{"filter":"datum.p=='d'"}],"mark":{"type":"line","color":"#1e8b34","strokeWidth":4.5},
     "encoding":{"x":{"field":"x","type":"quantitative","title":"TRM","scale":{"domain":[0,1],"nice":false},"axis":{"values":[0,0.2,0.4,0.6,0.8,1],"labelExpr":"datum.value === 0 ? '0' : format(datum.value, '.1f')"}},"y":{"field":"y","type":"quantitative","title":"NRM","scale":{"domain":[0,1],"nice":false},"axis":{"values":[0,0.2,0.4,0.6,0.8,1],"labelExpr":"datum.value === 0 ? '0' : format(datum.value, '.1f')"}}}},
    {"data":{"name":"steps"},"transform":[{"filter":"datum.p=='d'"}],"mark":{"type":"line","color":"#000","strokeWidth":2},
     "encoding":{"x":{"field":"x","type":"quantitative","title":"TRM","scale":{"domain":[0,1],"nice":false}},"y":{"field":"y","type":"quantitative","title":"NRM","scale":{"domain":[0,1],"nice":false}},"detail":{"field":"g"},"order":{"field":"o","type":"quantitative"}}},
    {"data":{"name":"arai"},"transform":[{"filter":"datum.p=='d'"}],
     "encoding":{"x":{"field":"x","type":"quantitative","title":"TRM","scale":{"domain":[0,1],"nice":false}},"y":{"field":"y","type":"quantitative","title":"NRM","scale":{"domain":[0,1],"nice":false}}},
     "layer":[
      {"transform":[{"filter":"datum.k=='o'"}],"mark":{"type":"point","shape":"circle","filled":false,"color":"#505050","strokeWidth":2,"size":110,"opacity":1}},
      {"transform":[{"filter":"datum.k=='f'"}],"mark":{"type":"circle","color":"#48484a","size":175,"opacity":1}},
      {"transform":[{"filter":"datum.k=='t'"}],"mark":{"type":"point","shape":"triangle-up","filled":false,"color":"#433f9b","strokeWidth":2.2,"size":160,"opacity":1}},
      {"transform":[{"filter":"datum.k=='s'"}],"mark":{"type":"point","shape":"square","filled":false,"color":"#e0102e","strokeWidth":2.2,"size":100,"opacity":1}}
     ]}
   ]}
]
}
